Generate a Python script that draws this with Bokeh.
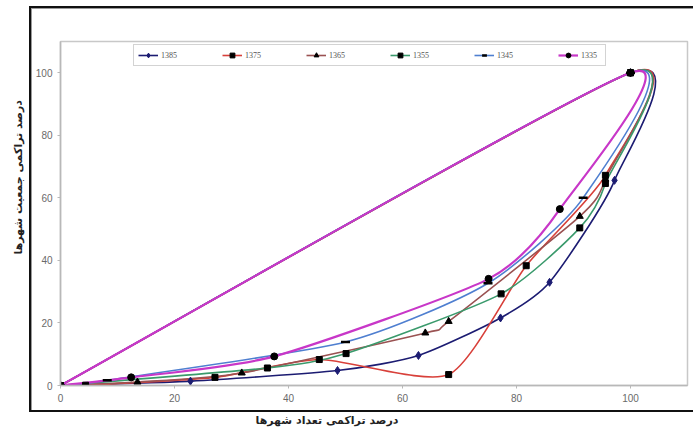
import numpy as np
from bokeh.plotting import figure
from bokeh.models import Legend, LegendItem, Title, FixedTicker, InlineStyleSheet
from bokeh.embed import file_html
from bokeh.resources import INLINE

# ---- data (cumulative % of cities, cumulative % of population) ----
series_names = ["1385", "1375", "1365", "1355", "1345", "1335"]

x_1385 = [0, 22.8, 48.6, 62.8, 77.2, 85.8, 97.2, 100]
y_1385 = [0, 1.4, 4.8, 9.6, 21.6, 33.0, 65.6, 100]

x_1375 = [0, 4.4, 27.1, 45.4, 68.1, 81.7, 95.6, 100]
y_1375 = [0, 0.1, 2.6, 8.3, 3.5, 38.3, 67.2, 100]

x_1365 = [0, 13.5, 31.8, 64.0, 68.1, 91.1, 95.6, 100]
y_1365 = [0, 1.1, 4.0, 16.8, 20.5, 54.1, 66.0, 100]

x_1355 = [0, 36.3, 50.1, 77.3, 91.1, 95.6, 100]
y_1355 = [0, 5.6, 10.2, 29.3, 50.4, 64.6, 100]

x_1345 = [0, 8.2, 50.0, 75.0, 91.7, 100]
y_1345 = [0, 1.7, 13.9, 32.7, 60.0, 100]

x_1335 = [0, 12.4, 37.5, 75.1, 87.6, 100]
y_1335 = [0, 2.6, 9.3, 34.1, 56.4, 100]

xs = [x_1385, x_1375, x_1365, x_1355, x_1345, x_1335]
ys = [y_1385, y_1375, y_1365, y_1355, y_1345, y_1335]

x_ticks = [0, 20, 40, 60, 80, 100]
y_ticks = [0, 20, 40, 60, 80, 100]

x_title = "درصد تراکمی تعداد شهرها"
y_title = "درصد تراکمی جمعیت شهرها"

# ---- styles ----
line_colors = ["#1c1c72", "#d8403a", "#9a5252", "#3a9a6c", "#4f7fd0", "#c837c8"]
line_widths = [1.6, 1.6, 1.6, 1.6, 1.6, 2.2]
markers = ["diamond", "square", "triangle", "square", "dash", "circle"]
marker_colors = ["#1c1c72", "black", "black", "black", "black", "black"]
marker_sizes = [8, 6, 7, 6, 9, 7]

frame_css = InlineStyleSheet(css="""
:host { position: relative; }
:host::after {
  content: ""; position: absolute; left: 29px; top: 6px; width: 664px; height: 406px;
  border-top: 2.5px solid #111; border-left: 2.5px solid #111; border-bottom: 2.5px solid #111;
  box-shadow: 1px 1px 0 #9a9a9a inset; box-sizing: border-box; pointer-events: none;
}
""")

p = figure(width=693, height=433, x_range=(0, 110), y_range=(0, 110),
           output_backend="svg", toolbar_location=None,
           min_border_left=60, min_border_right=6, min_border_top=41, min_border_bottom=47)
p.stylesheets = [frame_css]
p.xgrid.visible = False
p.ygrid.visible = False
p.outline_line_color = "#c8c8c8"
p.outline_line_width = 1.5
p.background_fill_color = "white"
p.border_fill_color = "white"

for ax, ticks in ((p.xaxis, x_ticks), (p.yaxis, y_ticks)):
    ax.ticker = FixedTicker(ticks=ticks)
    ax.axis_line_color = "#b8b8b8"
    ax.axis_line_width = 1.5
    ax.major_tick_line_color = "#b8b8b8"
    ax.major_tick_out = 3
    ax.major_tick_in = 0
    ax.minor_tick_line_color = None
    ax.major_label_text_font = "Liberation Sans"
    ax.major_label_text_font_size = "10px"
    ax.major_label_text_color = "#6a6a6a"
    ax.major_label_standoff = 5


def smooth_segments(xv, yv, k=0.11):
    # closed back to the origin like the original chart (diagonal return)
    px = np.array(list(xv) + [0.0])
    py = np.array(list(yv) + [0.0])
    n = len(px)
    seg = dict(x0=[], y0=[], x1=[], y1=[], cx0=[], cy0=[], cx1=[], cy1=[])
    for i in range(n - 1):
        im = max(i - 1, 0)
        ip = min(i + 2, n - 1)
        seg["x0"].append(px[i]); seg["y0"].append(py[i])
        seg["x1"].append(px[i + 1]); seg["y1"].append(py[i + 1])
        seg["cx0"].append(px[i] + k * (px[i + 1] - px[im]))
        seg["cy0"].append(py[i] + k * (py[i + 1] - py[im]))
        seg["cx1"].append(px[i + 1] - k * (px[ip] - px[i]))
        seg["cy1"].append(py[i + 1] - k * (py[ip] - py[i]))
    return seg


curve_renderers = []
for xv, yv, c, lw in zip(xs, ys, line_colors, line_widths):
    seg = smooth_segments(xv, yv)
    r = p.bezier(line_color=c, line_width=lw, **seg)
    curve_renderers.append(r)

marker_renderers = []
for xv, yv, m, mc, ms in zip(xs, ys, markers, marker_colors, marker_sizes):
    if m == "dash":
        r = p.scatter(xv, yv, marker=m, size=ms, line_color=mc, line_width=2.5)
    else:
        r = p.scatter(xv, yv, marker=m, size=ms, fill_color=mc, line_color=mc)
    marker_renderers.append(r)

items = [LegendItem(label=n, renderers=[cr, mr])
         for n, cr, mr in zip(series_names, curve_renderers, marker_renderers)]
legend = Legend(items=items, orientation="horizontal", location=(73, 319),
                border_line_color="#a8a8a8", border_line_width=1,
                background_fill_color="white", background_fill_alpha=1,
                label_text_font="Liberation Serif", label_text_font_size="8px",
                label_text_color="#555555",
                glyph_width=20, glyph_height=12, label_standoff=3,
                label_width=20, label_height=12, spacing=41, padding=4, margin=0)
p.add_layout(legend)

# axis titles
p.add_layout(Title(text=y_title, align="left", offset=131, standoff=16,
                   text_font="DejaVu Sans", text_font_style="bold",
                   text_font_size="11px", text_color="#222222"), "left")
p.add_layout(Title(text=x_title, align="left", offset=195, standoff=14,
                   text_font="DejaVu Sans", text_font_style="bold",
                   text_font_size="11px", text_color="#222222"), "below")

open("out.html", "w").write(file_html(p, INLINE))
